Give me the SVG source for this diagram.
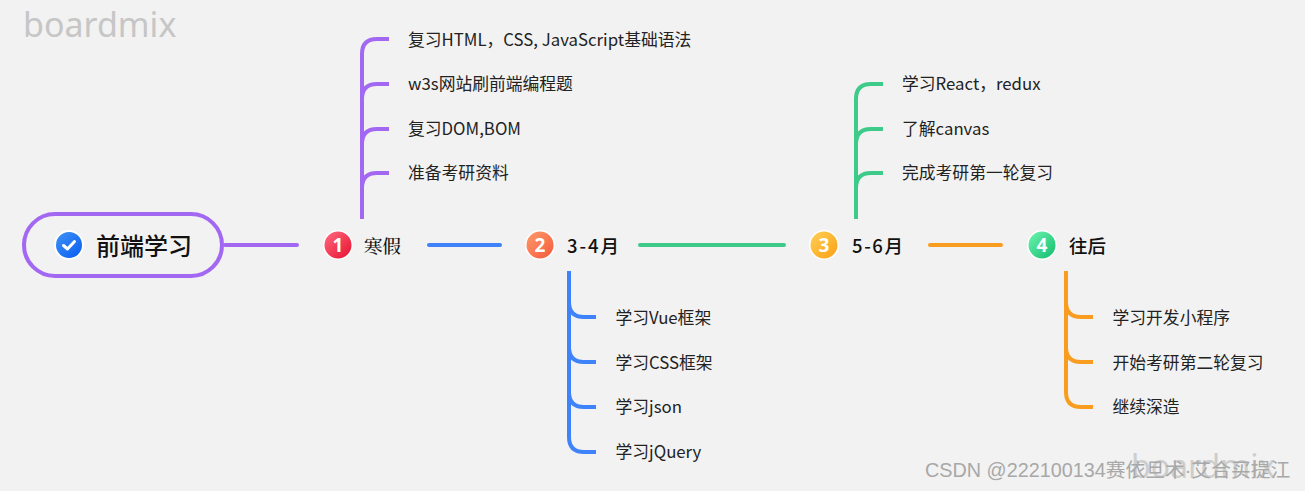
<svg xmlns="http://www.w3.org/2000/svg" width="1305" height="491" viewBox="0 0 1305 491">
<style>
text{font-family:"Noto Sans CJK SC","Noto Sans",sans-serif;fill:#222}
.leaf{font-size:16.8px}
.main{font-size:18.5px;font-weight:500;fill:#111}
.n{font-size:19px;font-weight:700;fill:#fff;text-anchor:middle;font-family:"Noto Sans",sans-serif}
.c{fill:none;stroke-width:4;stroke-linecap:round}
.p{stroke:#a368f2}.b{stroke:#3f83fb}.g{stroke:#3ecb8a}.o{stroke:#f99d20}
.ring{fill:#fff}
</style>
<defs>
<linearGradient id="g1" x1="0" y1="0" x2="1" y2="1"><stop offset="0" stop-color="#ff6b81"/><stop offset="1" stop-color="#e8102e"/></linearGradient>
<linearGradient id="g2" x1="0" y1="0" x2="1" y2="1"><stop offset="0" stop-color="#ff9a6b"/><stop offset="1" stop-color="#f45a3c"/></linearGradient>
<linearGradient id="g3" x1="0" y1="0" x2="1" y2="1"><stop offset="0" stop-color="#ffd055"/><stop offset="1" stop-color="#fb9f16"/></linearGradient>
<linearGradient id="g4" x1="0" y1="0" x2="1" y2="1"><stop offset="0" stop-color="#6ff5b0"/><stop offset="1" stop-color="#12bb6c"/></linearGradient>
<linearGradient id="g0" x1="0" y1="0" x2="1" y2="1"><stop offset="0" stop-color="#3f93f5"/><stop offset="1" stop-color="#0a5cf0"/></linearGradient>
</defs>
<rect width="1305" height="491" fill="#f2f2f2"/>
<text x="23" y="37" font-size="34" style="font-family:'Noto Sans',sans-serif;fill:#c6c6c6">boardmix</text>
<text x="1131" y="478" font-size="32" style="font-family:'Noto Sans',sans-serif;fill:#cdcdcd">boardmix</text>
<g id="connectors">
<path class="c p" d="M225 245H297"/>
<path class="c b" d="M429 245H500"/>
<path class="c g" d="M640 245H784"/>
<path class="c o" d="M930 245H1001"/>
<path class="c p" d="M362 219V54Q362 39 377 39H389M362 99Q362 84 377 84H389M362 144Q362 129 377 129H389M362 188Q362 173 377 173H389" style="stroke-linecap:butt"/>
<path class="c b" d="M569 271V437Q569 452 584 452H596M569 302Q569 317 584 317H596M569 347Q569 362 584 362H596M569 392Q569 407 584 407H596" style="stroke-linecap:butt"/>
<path class="c g" d="M856 219V99Q856 84 871 84H883M856 144Q856 129 871 129H883M856 188Q856 173 871 173H883" style="stroke-linecap:butt"/>
<path class="c o" d="M1066 271V392Q1066 407 1081 407H1093M1066 302Q1066 317 1081 317H1093M1066 347Q1066 362 1081 362H1093" style="stroke-linecap:butt"/>
</g>
<g id="root">
<rect x="24" y="214" width="198" height="62" rx="31" fill="#f2f2f2" stroke="#a368f2" stroke-width="4"/>
<circle cx="69" cy="245" r="15" class="ring"/>
<circle cx="69" cy="245" r="13" fill="url(#g0)"/>
<path d="M63.500 245.500L67.500 249L74.500 241.500" fill="none" stroke="#fff" stroke-width="3" stroke-linecap="round" stroke-linejoin="round"/>
<text x="96" y="255" font-size="24" style="font-weight:500;fill:#111">前端学习</text>
</g>
<g id="n1"><circle cx="338" cy="245" r="15" class="ring"/><circle cx="338" cy="245" r="13.500" fill="url(#g1)"/><text class="n" x="338" y="252">1</text><text class="main" x="364" y="253" style="font-family:'Noto Serif CJK SC','Noto Sans CJK SC',serif">寒假</text></g>
<g id="n2"><circle cx="540" cy="245" r="15" class="ring"/><circle cx="540" cy="245" r="13.500" fill="url(#g2)"/><text class="n" x="540" y="252">2</text><text class="main" x="567" y="253" textLength="52">3-4月</text></g>
<g id="n3"><circle cx="824" cy="245" r="15" class="ring"/><circle cx="824" cy="245" r="13.500" fill="url(#g3)"/><text class="n" x="824" y="252">3</text><text class="main" x="852" y="253" textLength="51">5-6月</text></g>
<g id="n4"><circle cx="1042" cy="245" r="15" class="ring"/><circle cx="1042" cy="245" r="13.500" fill="url(#g4)"/><text class="n" x="1042" y="252">4</text><text class="main" x="1069" y="253">往后</text></g>
<g id="leaves">
<text class="leaf" x="408" y="45.500">复习HTML，CSS, JavaScript基础语法</text>
<text class="leaf" x="408" y="90">w3s网站刷前端编程题</text>
<text class="leaf" x="408" y="135">复习DOM,BOM</text>
<text class="leaf" x="408" y="178.500">准备考研资料</text>
<text class="leaf" x="615.500" y="323.500">学习Vue框架</text>
<text class="leaf" x="615.500" y="368.500">学习CSS框架</text>
<text class="leaf" x="615.500" y="413">学习json</text>
<text class="leaf" x="615.500" y="458">学习jQuery</text>
<text class="leaf" x="902" y="90">学习React，redux</text>
<text class="leaf" x="902" y="135">了解canvas</text>
<text class="leaf" x="902" y="178.500">完成考研第一轮复习</text>
<text class="leaf" x="1112.500" y="323.500">学习开发小程序</text>
<text class="leaf" x="1112.500" y="368.500">开始考研第二轮复习</text>
<text class="leaf" x="1112.500" y="413">继续深造</text>
</g>
<text x="925" y="477" font-size="19.800" style="font-family:'Liberation Sans','Noto Sans CJK SC',sans-serif;fill:#a8a8a8">CSDN @222100134赛依旦术·艾合买提江</text>
</svg>
